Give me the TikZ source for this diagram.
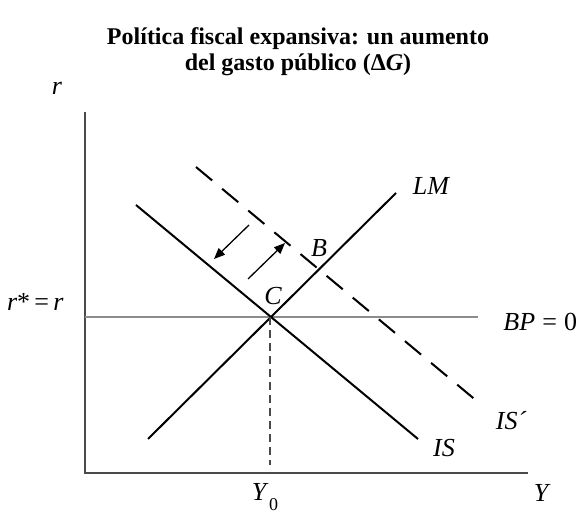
\documentclass[tikz,border=0pt]{standalone}
\usepackage{fontspec}
\setmainfont{Liberation Serif}
\usepackage{tikz}
\usetikzlibrary{arrows.meta,positioning,calc}
\definecolor{AxisGray}{HTML}{4A4A4A}
\definecolor{LineGray}{HTML}{8C8C8C}
\tikzset{
  axis/.style={draw=AxisGray, line width=1pt},
  curve/.style={draw=black, line width=1pt},
  bpline/.style={draw=LineGray, line width=1pt},
  shifted/.style={curve, dash pattern=on 10.5pt off 6.5pt},
  guide/.style={draw=AxisGray, line width=0.6pt, dash pattern=on 4pt off 2.5pt},
  movearrow/.style={-{Triangle[length=5.5pt,width=4.5pt]}, line width=0.65pt, draw=black},
  lbl/.style={font=\fontsize{13}{15}\selectfont\itshape, inner sep=0pt},
  ttl/.style={font=\fontsize{12}{13}\selectfont\bfseries, align=center, inner sep=0pt},
}
\begin{document}
\begin{tikzpicture}[x=0.5pt, y=-0.5pt]
  \useasboundingbox (0,0) rectangle (580,512);
  \node[ttl] (title) at (298,52) {Política fiscal expansiva: un aumento\\del gasto público (Δ\textit{G})};
  % axes
  \coordinate (origin) at (85,473);
  \coordinate (ytop) at (85,112);
  \coordinate (xend) at (528,473);
  \draw[axis] (ytop) -- (origin) -- (xend);
  \node[lbl] (rlab) at (57,88) {r};
  \node[lbl] (Ylab) at (541,493) {Y};
  % BP = 0
  \coordinate (bpend) at (478,317);
  \draw[bpline] (origin |- bpend) -- (bpend);
  \node[lbl, anchor=east] (rstar) at (64,302) {r\upshape *\,=\,\itshape r};
  \node[lbl, anchor=west] (bplab) at (503,322) {BP\upshape\;=\;0};
  % LM, IS, IS'
  \coordinate (lmlow) at (148,439);
  \coordinate (lmhigh) at (396,193);
  \coordinate (islow) at (418,439);
  \coordinate (ishigh) at (136,205);
  \coordinate (isplow) at (478,402);
  \coordinate (isphigh) at (196,167);
  \draw[curve] (lmlow) -- (lmhigh);
  \draw[curve] (ishigh) -- (islow);
  \draw[shifted] (isphigh) -- (isplow);
  \node[lbl] (lmlab) at (431,186) {LM};
  \node[lbl] (islab) at (444,448) {IS};
  \node[lbl] (isplab) at (511,421) {IS´};
  % equilibria
  \coordinate (C) at (270,317);
  \coordinate (B) at (318,269);
  \node[lbl] (clab) at (273,296) {C};
  \node[lbl] (blab) at (319,248) {B};
  \coordinate (Y0) at (270,465);
  \draw[guide] (C) -- (Y0);
  \node[lbl] (y0lab) at (265,497) {Y\upshape\kern1.5pt\raisebox{-0.8ex}{\fontsize{9}{10}\selectfont 0}};
  % shift arrows
  \coordinate (downfrom) at (249,225);
  \coordinate (downto) at (214,259);
  \coordinate (upfrom) at (248,279);
  \coordinate (upto) at (285,243);
  \draw[movearrow] (downfrom) -- (downto);
  \draw[movearrow] (upfrom) -- (upto);
\end{tikzpicture}
\end{document}
